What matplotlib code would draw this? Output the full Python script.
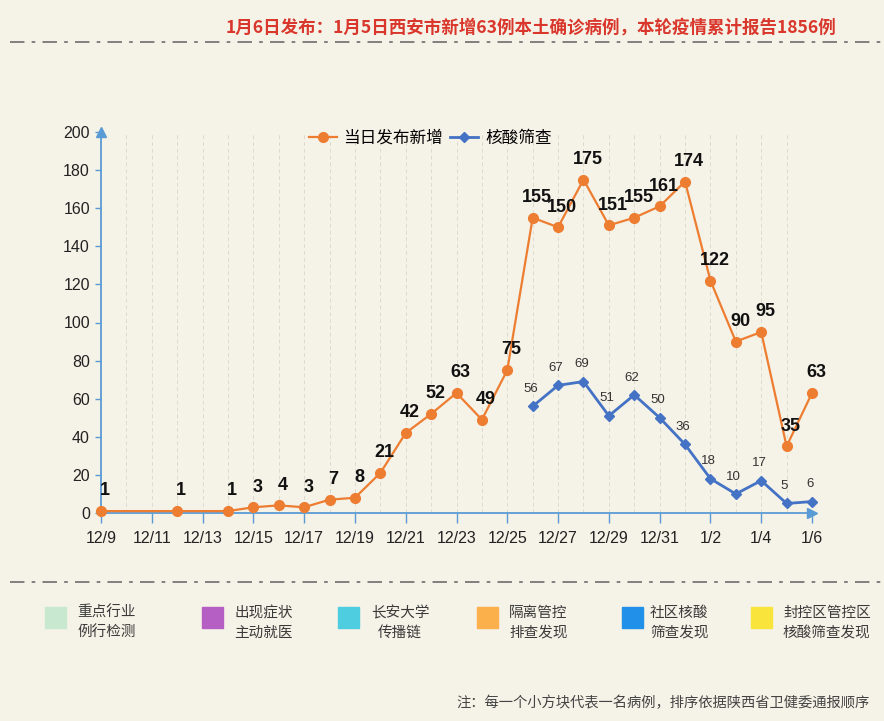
import matplotlib
matplotlib.use("Agg")
import matplotlib.pyplot as plt
from matplotlib.patches import Rectangle
from matplotlib.lines import Line2D

plt.rcParams['font.family'] = ['Noto Sans CJK SC', 'DejaVu Sans']

# data
dates = ['12/9', '12/10', '12/11', '12/12', '12/13', '12/14', '12/15', '12/16',
         '12/17', '12/18', '12/19', '12/20', '12/21', '12/22', '12/23', '12/24',
         '12/25', '12/26', '12/27', '12/28', '12/29', '12/30', '12/31',
         '1/1', '1/2', '1/3', '1/4', '1/5', '1/6']

new_dates = ['12/9', '12/12', '12/14', '12/15', '12/16', '12/17', '12/18', '12/19',
             '12/20', '12/21', '12/22', '12/23', '12/24', '12/25', '12/26', '12/27',
             '12/28', '12/29', '12/30', '12/31', '1/1', '1/2', '1/3', '1/4', '1/5', '1/6']
new_cases = [1, 1, 1, 3, 4, 3, 7, 8, 21, 42, 52, 63, 49, 75, 155, 150,
             175, 151, 155, 161, 174, 122, 90, 95, 35, 63]

screen_dates = ['12/26', '12/27', '12/28', '12/29', '12/30', '12/31',
                '1/1', '1/2', '1/3', '1/4', '1/5', '1/6']
screen_cases = [56, 67, 69, 51, 62, 50, 36, 18, 10, 17, 5, 6]

series_names = ['当日发布新增', '核酸筛查']

title = '1月6日发布：1月5日西安市新增63例本土确诊病例，本轮疫情累计报告1856例'
key_labels = ['重点行业\n例行检测', '出现症状\n主动就医', '长安大学\n传播链',
              '隔离管控\n排查发现', '社区核酸\n筛查发现', '封控区管控区\n核酸筛查发现']
key_colors = ['#c9e8d0', '#b55ec4', '#4fcde0', '#fbb04c', '#2090e8', '#f9e43c']
note = '注：每一个小方块代表一名病例，排序依据陕西省卫健委通报顺序'

bg = '#f5f2e7'
axis_blue = '#5b9bd5'
orange = '#ed7d31'
blue = '#4472c4'
num_font = 'Liberation Sans'

W, H = 884, 721
fig = plt.figure(figsize=(W / 100, H / 100), dpi=100, facecolor=bg)
ax = fig.add_axes([101 / W, 1 - 513 / H, (812 - 101) / W, (513 - 132) / H])
ax.set_facecolor(bg)

x_new = [dates.index(d) for d in new_dates]
x_scr = [dates.index(d) for d in screen_dates]

ax.plot(x_new, new_cases, color=orange, lw=1.6, marker='o', ms=7,
        label=series_names[0], zorder=3, clip_on=False)
ax.plot(x_scr, screen_cases, color=blue, lw=2, marker='D', ms=5,
        label=series_names[1], zorder=3, clip_on=False)

for x, v in zip(x_new, new_cases):
    ax.annotate(str(v), (x, v), xytext=(3, 14.5), textcoords='offset points',
                ha='center', va='center', fontsize=13, fontweight='bold',
                color='#111111', family=num_font, zorder=4)
for x, v in zip(x_scr, screen_cases):
    ax.annotate(str(v), (x, v), xytext=(-1.5, 12.5), textcoords='offset points',
                ha='center', va='center', fontsize=9.5, color='#333333',
                family=num_font, zorder=4)

ax.set_xlim(0, len(dates) - 1)
ax.set_ylim(0, 200)

# vertical day grid
for i in range(1, len(dates)):
    ax.axvline(i, color='#dedacd', lw=0.7, ls=(0, (4, 3)), zorder=1)

ax.set_xticks(range(0, len(dates), 2))
ax.set_xticklabels(dates[::2], family=num_font, fontsize=11.5, color='#222222')
ax.set_yticks(range(0, 201, 20))
ax.set_yticklabels([str(v) for v in range(0, 201, 20)], family=num_font,
                   fontsize=11.5, color='#222222')
ax.tick_params(axis='x', direction='out', length=7, width=1, color=axis_blue, pad=6)
ax.tick_params(axis='y', direction='out', length=4, width=1, color=axis_blue, pad=4)

for s in ['top', 'right']:
    ax.spines[s].set_visible(False)
for s in ['left', 'bottom']:
    ax.spines[s].set_color(axis_blue)
    ax.spines[s].set_linewidth(1.3)
ax.plot(0, 1, marker='^', ms=7, color=axis_blue, transform=ax.transAxes, clip_on=False)
ax.plot(1, 0, marker='>', ms=7, color=axis_blue, transform=ax.transAxes, clip_on=False)

ax.legend(loc='center', bbox_to_anchor=(430 / W, 1 - 138 / H),
          bbox_transform=fig.transFigure, ncol=2, frameon=False, fontsize=12,
          handlelength=1.7, handletextpad=0.4, columnspacing=0.4)

# header and separators
fig.text(531 / W, 1 - 28 / H, title, ha='center', va='center', fontsize=12.6,
         fontweight='bold', color='#d9362c')
for yy in [42, 582]:
    fig.add_artist(Line2D([10 / W, 1], [1 - yy / H, 1 - yy / H], color='#777777',
                          lw=1.3, ls=(0, (8, 4, 2, 4)), transform=fig.transFigure))

# bottom key
sq_x = [45, 202, 338, 477, 622, 751]
txt_x = [77, 234, 400, 509, 650, 783]
txt_ha = ['left', 'left', 'center', 'left', 'left', 'left']
for i, lab in enumerate(key_labels):
    fig.add_artist(Rectangle((sq_x[i] / W, 1 - 628 / H), 21 / W, 21 / H,
                             color=key_colors[i], transform=fig.transFigure))
    fig.text(txt_x[i] / W, 1 - 623 / H, lab, ha=txt_ha[i], va='center',
             fontsize=10.5, color='#3a3a3a', linespacing=1.55, multialignment='center')

fig.text(870 / W, 1 - 703 / H, note, ha='right', va='center', fontsize=10.3,
         color='#444444')

fig.savefig('out.png', dpi=100, facecolor=bg)
